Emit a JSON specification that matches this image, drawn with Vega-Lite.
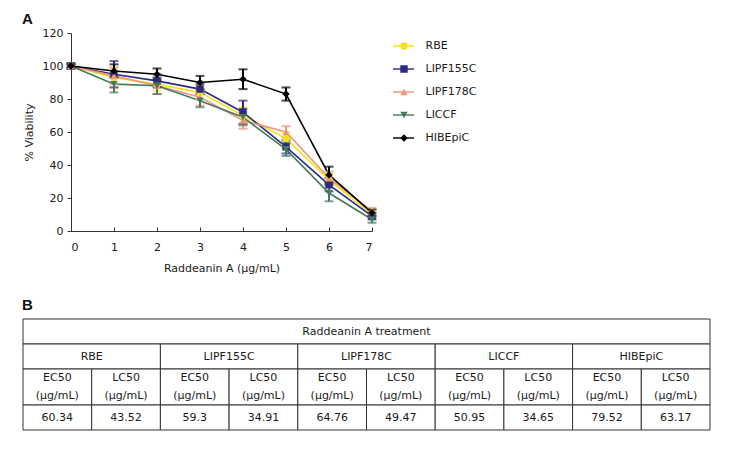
{
  "$schema": "https://vega.github.io/schema/vega-lite/v6.json",
  "background": "white",
  "padding": {"left": 22, "top": 12, "right": 5, "bottom": 5},
  "config": {
    "view": {"stroke": null},
    "font": "DejaVu Sans",
    "axis": {"labelFont": "DejaVu Sans", "labelFontSize": 11, "titleFont": "DejaVu Sans", "titleFontSize": 11, "titleFontWeight": "normal", "labelColor": "#1a1a1a", "titleColor": "#1a1a1a", "domainColor": "#333", "tickColor": "#333", "grid": false},
    "legend": {"labelFont": "DejaVu Sans", "labelFontSize": 11, "labelColor": "#1a1a1a"},
    "text": {"font": "DejaVu Sans", "fontSize": 11, "color": "#1a1a1a"},
    "title": {"font": "Liberation Sans", "fontSize": 15, "fontWeight": "bold", "anchor": "start", "color": "#111", "frame": "group"}
  },
  "spacing": 24,
  "vconcat": [
    {
      "width": 301,
      "height": 198,
      "title": {"text": "A", "dx": -49, "offset": 0},
      "data": {"values": [
        {"series": "RBE", "dose": 0, "viability": 100, "err": 1.5},
        {"series": "RBE", "dose": 1, "viability": 93, "err": 6},
        {"series": "RBE", "dose": 2, "viability": 89, "err": 4},
        {"series": "RBE", "dose": 3, "viability": 84, "err": 4},
        {"series": "RBE", "dose": 4, "viability": 70, "err": 5},
        {"series": "RBE", "dose": 5, "viability": 56, "err": 4},
        {"series": "RBE", "dose": 6, "viability": 31, "err": 4},
        {"series": "RBE", "dose": 7, "viability": 10, "err": 2},
        {"series": "LIPF155C", "dose": 0, "viability": 100, "err": 1.5},
        {"series": "LIPF155C", "dose": 1, "viability": 95, "err": 8},
        {"series": "LIPF155C", "dose": 2, "viability": 91, "err": 4},
        {"series": "LIPF155C", "dose": 3, "viability": 86, "err": 3},
        {"series": "LIPF155C", "dose": 4, "viability": 72, "err": 7},
        {"series": "LIPF155C", "dose": 5, "viability": 51, "err": 4},
        {"series": "LIPF155C", "dose": 6, "viability": 28, "err": 4},
        {"series": "LIPF155C", "dose": 7, "viability": 9, "err": 2},
        {"series": "LIPF178C", "dose": 0, "viability": 100, "err": 1.5},
        {"series": "LIPF178C", "dose": 1, "viability": 94, "err": 5},
        {"series": "LIPF178C", "dose": 2, "viability": 88, "err": 5},
        {"series": "LIPF178C", "dose": 3, "viability": 81, "err": 5},
        {"series": "LIPF178C", "dose": 4, "viability": 67, "err": 5},
        {"series": "LIPF178C", "dose": 5, "viability": 60, "err": 3.5},
        {"series": "LIPF178C", "dose": 6, "viability": 32, "err": 4},
        {"series": "LIPF178C", "dose": 7, "viability": 12, "err": 2},
        {"series": "LICCF", "dose": 0, "viability": 100, "err": 1.5},
        {"series": "LICCF", "dose": 1, "viability": 89, "err": 5},
        {"series": "LICCF", "dose": 2, "viability": 88, "err": 5},
        {"series": "LICCF", "dose": 3, "viability": 79, "err": 4},
        {"series": "LICCF", "dose": 4, "viability": 69, "err": 5},
        {"series": "LICCF", "dose": 5, "viability": 49.5, "err": 4},
        {"series": "LICCF", "dose": 6, "viability": 23, "err": 5},
        {"series": "LICCF", "dose": 7, "viability": 7, "err": 2},
        {"series": "HIBEpiC", "dose": 0, "viability": 100, "err": 1},
        {"series": "HIBEpiC", "dose": 1, "viability": 97, "err": 4},
        {"series": "HIBEpiC", "dose": 2, "viability": 95, "err": 3.5},
        {"series": "HIBEpiC", "dose": 3, "viability": 90, "err": 4},
        {"series": "HIBEpiC", "dose": 4, "viability": 92, "err": 6},
        {"series": "HIBEpiC", "dose": 5, "viability": 83, "err": 4},
        {"series": "HIBEpiC", "dose": 6, "viability": 34, "err": 5},
        {"series": "HIBEpiC", "dose": 7, "viability": 11, "err": 2}
      ]},
      "encoding": {
        "x": {"field": "dose", "type": "quantitative", "scale": {"domain": [0, 7], "nice": false}, "axis": {"values": [0, 1, 2, 3, 4, 5, 6, 7], "format": "d", "title": "Raddeanin A (μg/mL)", "tickSize": -4, "labelPadding": 14, "titlePadding": 10}},
        "y": {"field": "viability", "type": "quantitative", "scale": {"domain": [0, 120], "nice": false}, "axis": {"values": [0, 20, 40, 60, 80, 100, 120], "title": "% Viability", "tickSize": 4, "labelPadding": 4, "titlePadding": 8}}
      },
      "layer": [
        {
          "mark": {"type": "line", "strokeWidth": 1.6},
          "encoding": {
            "color": {"field": "series", "type": "nominal", "sort": ["RBE", "LIPF155C", "LIPF178C", "LICCF", "HIBEpiC"], "scale": {"range": ["#F7E217", "#2D2A84", "#EE9479", "#457A5C", "#000000"]}, "legend": {"orient": "none", "legendX": 321, "legendY": 1.5, "symbolType": "stroke", "symbolSize": 441, "symbolStrokeWidth": 2, "labelExpr": "''", "title": null, "clipHeight": 23, "rowPadding": 0, "padding": 0, "zindex": 0}},
            "strokeWidth": {"condition": {"test": "datum.series === 'HIBEpiC'", "value": 2}, "value": 1.6}
          }
        },
        {
          "mark": {"type": "errorbar", "ticks": {"size": 9}, "thickness": 2},
          "encoding": {
            "yError": {"field": "err"},
            "color": {"field": "series", "type": "nominal", "sort": ["RBE", "LIPF155C", "LIPF178C", "LICCF", "HIBEpiC"]}
          }
        },
        {
          "mark": {"type": "point", "filled": true, "size": 55, "opacity": 1},
          "encoding": {
            "fill": {"field": "series", "type": "nominal", "scale": {"domain": ["RBE", "LIPF155C", "LIPF178C", "LICCF", "HIBEpiC"], "range": ["#F7E217", "#2D2A84", "#EE9479", "#457A5C", "#000000"]}, "legend": {"orient": "none", "legendX": 327.5, "legendY": 1.5, "symbolSize": 55, "symbolStrokeWidth": 0, "labelOffset": 16, "title": null, "clipHeight": 23, "rowPadding": 0, "padding": 0, "zindex": 1}},
            "shape": {"field": "series", "type": "nominal", "scale": {"domain": ["RBE", "LIPF155C", "LIPF178C", "LICCF", "HIBEpiC"], "range": ["circle", "square", "triangle-up", "triangle-down", "diamond"]}, "legend": {"orient": "none", "legendX": 327.5, "legendY": 1.5, "symbolSize": 55, "symbolStrokeWidth": 0, "labelOffset": 16, "title": null, "clipHeight": 23, "rowPadding": 0, "padding": 0, "zindex": 1}}
          }
        }
      ]
    },
    {
      "title": {"text": "B", "offset": 6, "dx": -49},
      "spacing": 0,
      "bounds": "flush",
      "vconcat": [
        {
          "width": 639,
          "height": 25,
          "data": {"values": [{"cell": "all", "label": "Raddeanin A treatment"}]},
          "encoding": {"x": {"field": "cell", "type": "nominal", "sort": null, "axis": null, "scale": {"paddingInner": 0, "paddingOuter": 0, "range": [-48, 639]}}},
          "layer": [
            {"mark": {"type": "rect", "fill": "white", "stroke": "#333", "strokeWidth": 1}},
            {"mark": {"type": "text", "baseline": "middle"}, "encoding": {"text": {"field": "label"}}}
          ]
        },
        {
          "width": 639,
          "height": 25,
          "data": {"values": [{"cell": "RBE"}, {"cell": "LIPF155C"}, {"cell": "LIPF178C"}, {"cell": "LICCF"}, {"cell": "HIBEpiC"}]},
          "encoding": {"x": {"field": "cell", "type": "nominal", "sort": null, "axis": null, "scale": {"paddingInner": 0, "paddingOuter": 0, "range": [-48, 639]}}},
          "layer": [
            {"mark": {"type": "rect", "fill": "white", "stroke": "#333", "strokeWidth": 1}},
            {"mark": {"type": "text", "baseline": "middle"}, "encoding": {"text": {"field": "cell"}}}
          ]
        },
        {
          "width": 639,
          "height": 36,
          "data": {"values": [
            {"cell": "RBE EC50", "label": "EC50\n(μg/mL)"},
            {"cell": "RBE LC50", "label": "LC50\n(μg/mL)"},
            {"cell": "LIPF155C EC50", "label": "EC50\n(μg/mL)"},
            {"cell": "LIPF155C LC50", "label": "LC50\n(μg/mL)"},
            {"cell": "LIPF178C EC50", "label": "EC50\n(μg/mL)"},
            {"cell": "LIPF178C LC50", "label": "LC50\n(μg/mL)"},
            {"cell": "LICCF EC50", "label": "EC50\n(μg/mL)"},
            {"cell": "LICCF LC50", "label": "LC50\n(μg/mL)"},
            {"cell": "HIBEpiC EC50", "label": "EC50\n(μg/mL)"},
            {"cell": "HIBEpiC LC50", "label": "LC50\n(μg/mL)"}
          ]},
          "encoding": {"x": {"field": "cell", "type": "nominal", "sort": null, "axis": null, "scale": {"paddingInner": 0, "paddingOuter": 0, "range": [-48, 639]}}},
          "layer": [
            {"mark": {"type": "rect", "fill": "white", "stroke": "#333", "strokeWidth": 1}},
            {"mark": {"type": "text", "baseline": "middle", "lineBreak": "\n", "lineHeight": 18, "dy": -9}, "encoding": {"text": {"field": "label"}}}
          ]
        },
        {
          "width": 639,
          "height": 25,
          "data": {"values": [
            {"cell": "RBE EC50", "value": "60.34"},
            {"cell": "RBE LC50", "value": "43.52"},
            {"cell": "LIPF155C EC50", "value": "59.3"},
            {"cell": "LIPF155C LC50", "value": "34.91"},
            {"cell": "LIPF178C EC50", "value": "64.76"},
            {"cell": "LIPF178C LC50", "value": "49.47"},
            {"cell": "LICCF EC50", "value": "50.95"},
            {"cell": "LICCF LC50", "value": "34.65"},
            {"cell": "HIBEpiC EC50", "value": "79.52"},
            {"cell": "HIBEpiC LC50", "value": "63.17"}
          ]},
          "encoding": {"x": {"field": "cell", "type": "nominal", "sort": null, "axis": null, "scale": {"paddingInner": 0, "paddingOuter": 0, "range": [-48, 639]}}},
          "layer": [
            {"mark": {"type": "rect", "fill": "white", "stroke": "#333", "strokeWidth": 1}},
            {"mark": {"type": "text", "baseline": "middle"}, "encoding": {"text": {"field": "value"}}}
          ]
        }
      ]
    }
  ]
}
